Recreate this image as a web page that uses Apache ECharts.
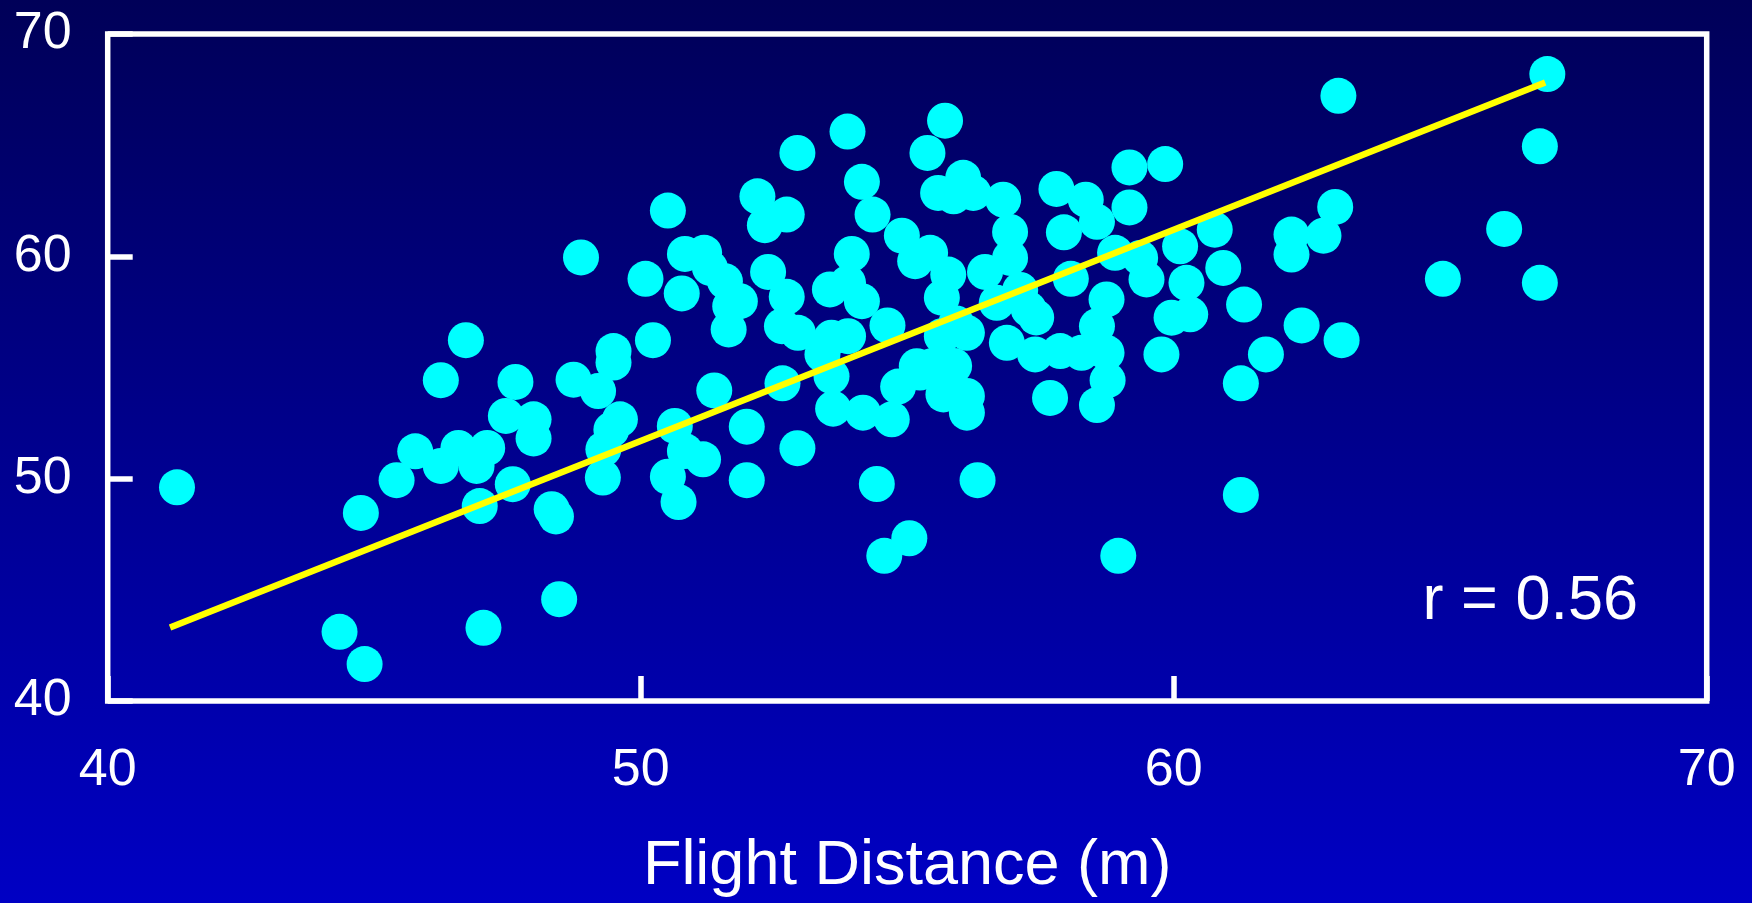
<!DOCTYPE html>
<html>
<head>
<meta charset="utf-8">
<script src="https://cdn.jsdelivr.net/npm/echarts@6/dist/echarts.min.js"></script>
<style>
html,body{margin:0;padding:0;width:1752px;height:903px;overflow:hidden;}
#chart{width:1752px;height:903px;}
</style>
</head>
<body>
<div id="chart"></div>
<script>
// Flight distance (m) values
const flightX = [
41.30,44.35,44.82,44.75,45.42,45.77,46.25,46.25,46.58,46.72,46.92,46.98,47.05,47.12,47.47,47.65,47.60,47.99,47.99,48.33,
48.41,48.47,48.74,48.88,49.20,49.30,49.29,49.49,49.49,49.61,49.45,50.09,50.23,50.51,50.51,50.64,50.71,50.77,50.83,50.83,
51.17,51.19,51.38,51.65,51.58,51.86,51.99,51.99,52.19,52.33,52.39,52.66,52.74,52.74,52.94,52.94,52.65,52.95,53.55,53.41,
53.61,53.58,53.88,53.89,53.96,53.89,54.15,54.15,54.17,54.35,54.43,54.57,54.63,54.71,54.83,54.90,55.04,55.15,55.18,55.38,
55.43,55.58,55.77,55.65,55.71,55.87,55.65,55.68,55.24,55.92,56.05,56.12,56.12,56.12,56.24,56.32,56.46,56.68,56.80,56.87,
56.93,56.93,57.12,57.28,57.42,57.40,57.68,57.80,57.87,57.94,58.07,58.35,58.27,58.56,58.56,58.56,58.74,58.74,58.76,58.96,
58.90,59.17,59.17,59.37,59.49,59.77,59.84,59.96,60.12,60.24,60.31,60.77,60.93,61.26,61.26,61.32,61.73,62.21,62.21,62.40,
62.81,63.03,63.09,63.15,65.05,66.20,66.87,66.87,67.01,51.30,51.68,53.58,55.46,55.88
];
// Second variable (y) values, same order
const valueY = [
49.61,43.11,41.66,48.46,49.93,51.23,50.57,54.43,51.38,56.23,50.57,48.77,43.29,51.38,52.82,54.35,49.75,52.67,51.81,48.63,
48.30,44.58,54.45,59.95,53.94,51.32,50.05,55.74,55.22,52.67,52.20,58.99,56.23,62.06,50.09,52.37,48.95,58.33,60.11,51.24,
50.87,60.16,53.97,56.71,58.88,57.98,52.34,49.93,62.70,61.40,59.30,54.29,58.18,61.88,64.65,51.37,56.86,56.56,58.51,55.59,
53.15,54.61,65.61,56.41,60.11,58.81,63.35,57.98,52.97,61.88,49.76,46.53,56.89,52.67,54.14,60.93,47.32,59.78,55.06,64.65,
60.16,62.85,59.18,56.41,66.10,62.70,58.14,53.79,54.77,56.98,63.53,53.72,52.97,56.56,62.85,49.93,59.30,57.91,62.55,56.11,
61.10,59.93,58.49,57.62,57.25,55.59,53.63,63.03,55.74,61.08,58.99,62.55,55.66,61.55,56.86,53.31,58.06,55.66,54.43,46.53,
60.16,62.20,64.00,59.93,58.96,55.59,64.15,57.24,60.45,58.81,57.39,61.20,59.48,54.29,49.27,57.83,55.59,60.08,60.98,56.89,
60.93,62.22,67.22,56.23,58.99,61.23,64.95,58.81,68.20,59.48,57.76,56.34,55.06,55.07
];
// Regression line end points
const fitX = [41.17, 66.97];
const fitY = [43.31, 67.82];
const xTicks = [40, 50, 60, 70];
const yTicks = [40, 50, 60, 70];
const rLabel = 'r = 0.56';
const xTitle = 'Flight Distance (m)';

const pts = flightX.map((x, i) => [x, valueY[i]]);
const fit = fitX.map((x, i) => [x, fitY[i]]);
const FONT = 'Liberation Sans';

const chart = echarts.init(document.getElementById('chart'), null, {renderer: 'canvas'});
chart.setOption({
  animation: false,
  backgroundColor: {
    type: 'linear', x: 0, y: 0, x2: 0, y2: 1,
    colorStops: [{offset: 0, color: '#000058'}, {offset: 1, color: '#0000C4'}]
  },
  grid: {
    left: 107.7, right: 45.3, top: 34, bottom: 201,
    show: true, borderColor: '#ffffff', borderWidth: 5.5, backgroundColor: 'transparent'
  },
  xAxis: {
    type: 'value', min: xTicks[0], max: xTicks[xTicks.length - 1], interval: 10,
    axisLine: {show: false},
    axisTick: {show: true, inside: true, length: 25, lineStyle: {color: '#ffffff', width: 5.5}},
    splitLine: {show: false},
    axisLabel: {color: '#ffffff', fontSize: 52, fontFamily: FONT, margin: 44},
    name: xTitle, nameLocation: 'middle', nameGap: 134,
    nameTextStyle: {color: '#ffffff', fontSize: 63, fontFamily: FONT}
  },
  yAxis: {
    type: 'value', min: yTicks[0], max: yTicks[yTicks.length - 1], interval: 10,
    axisLine: {show: false},
    axisTick: {show: true, inside: true, length: 25, lineStyle: {color: '#ffffff', width: 5.5}},
    splitLine: {show: false},
    axisLabel: {color: '#ffffff', fontSize: 52, fontFamily: FONT, margin: 36}
  },
  graphic: [{
    type: 'text', right: 114, top: 570,
    style: {text: rLabel, fill: '#ffffff', font: '63px "Liberation Sans"'}
  }],
  series: [{
    type: 'scatter', data: pts, symbolSize: 36,
    itemStyle: {color: '#00FFFF', opacity: 1}, z: 2
  }, {
    type: 'line', data: fit, symbol: 'none', z: 3,
    lineStyle: {color: '#FFFF00', width: 6.5, cap: 'butt'}
  }]
});
</script>
</body>
</html>
